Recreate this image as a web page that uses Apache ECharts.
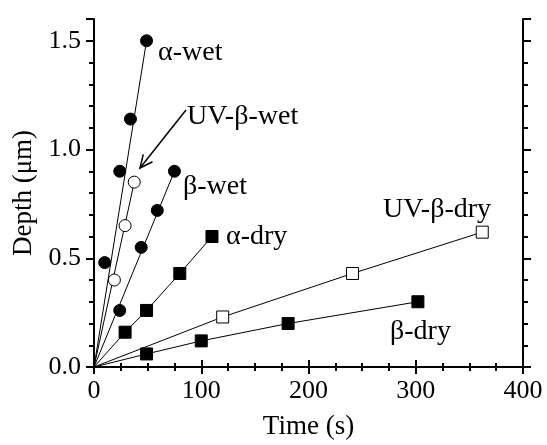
<!DOCTYPE html>
<html>
<head>
<meta charset="utf-8">
<script src="https://cdn.jsdelivr.net/npm/echarts@6/dist/echarts.min.js"></script>
<style>
  html, body { margin: 0; padding: 0; background: #fff; }
  #chart { width: 547px; height: 445px; }
</style>
</head>
<body>
<div id="chart"></div>
<script>
// data: time (s) and depth (um)
var alphaWetT = [10, 24, 34, 49];
var alphaWetD = [0.48, 0.90, 1.14, 1.50];
var uvBetaWetT = [19, 29, 37.5];
var uvBetaWetD = [0.40, 0.65, 0.85];
var betaWetT = [24, 44, 59, 75];
var betaWetD = [0.26, 0.55, 0.72, 0.90];
var alphaDryT = [29, 49, 80, 110];
var alphaDryD = [0.16, 0.26, 0.43, 0.60];
var uvBetaDryT = [120, 241, 362];
var uvBetaDryD = [0.23, 0.43, 0.62];
var betaDryT = [49, 100, 181, 302];
var betaDryD = [0.06, 0.12, 0.20, 0.30];

// fitted lines for the wet series (through origin)
var alphaWetFitT = [0, 49];
var alphaWetFitD = [0, 1.50];
var uvBetaWetFitT = [0, 37.5];
var uvBetaWetFitD = [0, 0.85];
var betaWetFitT = [0, 75];
var betaWetFitD = [0, 0.90];

var xTicks = [0, 100, 200, 300, 400];
var yTicks = [0.0, 0.5, 1.0, 1.5];

var FONT = '"Liberation Serif", "Times New Roman", serif';

function pairs(t, d) {
    var out = [];
    for (var i = 0; i < t.length; i++) out.push([t[i], d[i]]);
    return out;
}

function lineSeries(t, d, withOrigin) {
    var data = pairs(t, d);
    if (withOrigin) data.unshift([0, 0]);
    return {
        type: 'line',
        data: data,
        symbol: 'none',
        lineStyle: { color: '#000', width: 1 },
        silent: true,
        z: 2
    };
}

function markSeries(t, d, shape, open) {
    return {
        type: 'scatter',
        data: pairs(t, d),
        symbol: shape,
        symbolSize: 12,
        itemStyle: {
            color: open ? '#fff' : '#000',
            borderColor: '#000',
            borderWidth: 1,
            opacity: 1
        },
        z: 3
    };
}

var myChart = echarts.init(document.getElementById('chart'));

var xBase = {
    type: 'value',
    min: xTicks[0],
    max: xTicks[xTicks.length - 1],
    interval: 100,
    axisLine: { lineStyle: { color: '#000', width: 2 } },
    axisTick: { length: 7, lineStyle: { color: '#000', width: 2 } },
    minorTick: { show: true, splitNumber: 4, length: 4, lineStyle: { color: '#000', width: 2 } },
    splitLine: { show: false },
    minorSplitLine: { show: false }
};

// y: the top of the axis (1.6) is not a multiple of 0.5, so minor ticks
// come from a second overlapping axis with interval 0.1
var yMajor = {
    type: 'value',
    min: 0,
    max: 1.6,
    interval: 0.5,
    offset: 0,
    axisLine: { show: true, lineStyle: { color: '#000', width: 2 } },
    axisTick: { show: true, length: 8, lineStyle: { color: '#000', width: 2 } },
    splitLine: { show: false }
};
var yMinor = {
    type: 'value',
    min: 0,
    max: 1.6,
    interval: 0.1,
    offset: 0,
    axisLine: { show: false },
    axisTick: { show: true, length: 5, lineStyle: { color: '#000', width: 2 } },
    axisLabel: { show: false },
    splitLine: { show: false }
};

// arrow pointing at UV-beta-wet
var arrowFrom = [186, 110];
var arrowTo = [140, 168];
var dx = arrowTo[0] - arrowFrom[0], dy = arrowTo[1] - arrowFrom[1];
var len = Math.sqrt(dx * dx + dy * dy);
var ux = dx / len, uy = dy / len;
function wing(sign) {
    var a = sign * 25 * Math.PI / 180, L = 14;
    var c = Math.cos(a), s = Math.sin(a);
    var bx = -(ux * c - uy * s);
    var by = -(ux * s + uy * c);
    return [arrowTo[0] + bx * L, arrowTo[1] + by * L];
}

function label(text, x, baseline) {
    return {
        type: 'text',
        x: x,
        y: baseline - 10,
        style: {
            text: text,
            fontSize: 28,
            fontFamily: FONT,
            fill: '#000',
            verticalAlign: 'middle',
            align: 'left'
        },
        z: 10
    };
}

var option = {
    animation: false,
    backgroundColor: '#fff',
    grid: { left: 94, right: 24, top: 19, bottom: 78 },
    xAxis: [
        Object.assign({}, xBase, {
            position: 'bottom',
            axisLabel: { fontSize: 26, color: '#000', fontFamily: FONT, margin: 11 },
            name: 'Time (s)',
            nameLocation: 'middle',
            nameGap: 46,
            nameTextStyle: { fontSize: 27, color: '#000', fontFamily: FONT }
        }),
        Object.assign({}, xBase, { position: 'top', axisLabel: { show: false } })
    ],
    yAxis: [
        Object.assign({}, yMajor, {
            position: 'left',
            axisLabel: {
                fontSize: 26, color: '#000', fontFamily: FONT, margin: 13,
                formatter: function (v) {
                    for (var i = 0; i < yTicks.length; i++) {
                        if (Math.abs(yTicks[i] - v) < 1e-6) return v.toFixed(1);
                    }
                    return '';
                }
            },
            name: 'Depth (\u03bcm)',
            nameLocation: 'middle',
            nameGap: 56,
            nameTextStyle: { fontSize: 27, color: '#000', fontFamily: FONT }
        }),
        Object.assign({}, yMinor, { position: 'left' }),
        Object.assign({}, yMajor, { position: 'right', axisLabel: { show: false } }),
        Object.assign({}, yMinor, { position: 'right' })
    ],
    series: [
        lineSeries(alphaWetFitT, alphaWetFitD, false),
        lineSeries(uvBetaWetFitT, uvBetaWetFitD, false),
        lineSeries(betaWetFitT, betaWetFitD, false),
        lineSeries(alphaDryT, alphaDryD, true),
        lineSeries(uvBetaDryT, uvBetaDryD, true),
        lineSeries(betaDryT, betaDryD, true),
        markSeries(alphaWetT, alphaWetD, 'circle', false),
        markSeries(uvBetaWetT, uvBetaWetD, 'circle', true),
        markSeries(betaWetT, betaWetD, 'circle', false),
        markSeries(alphaDryT, alphaDryD, 'rect', false),
        markSeries(uvBetaDryT, uvBetaDryD, 'rect', true),
        markSeries(betaDryT, betaDryD, 'rect', false)
    ],
    graphic: [
        label('\u03b1-wet', 158, 63),
        label('UV-\u03b2-wet', 187, 127),
        label('\u03b2-wet', 183, 197),
        label('\u03b1-dry', 226, 247),
        label('UV-\u03b2-dry', 383, 220),
        label('\u03b2-dry', 390, 342),
        {
            type: 'line',
            shape: { x1: arrowFrom[0], y1: arrowFrom[1], x2: arrowTo[0], y2: arrowTo[1] },
            style: { stroke: '#000', lineWidth: 1.5 },
            z: 10
        },
        {
            type: 'polyline',
            shape: { points: [wing(1), arrowTo, wing(-1)] },
            style: { stroke: '#000', lineWidth: 1.5, fill: null },
            z: 10
        }
    ]
};

myChart.setOption(option);
</script>
</body>
</html>
